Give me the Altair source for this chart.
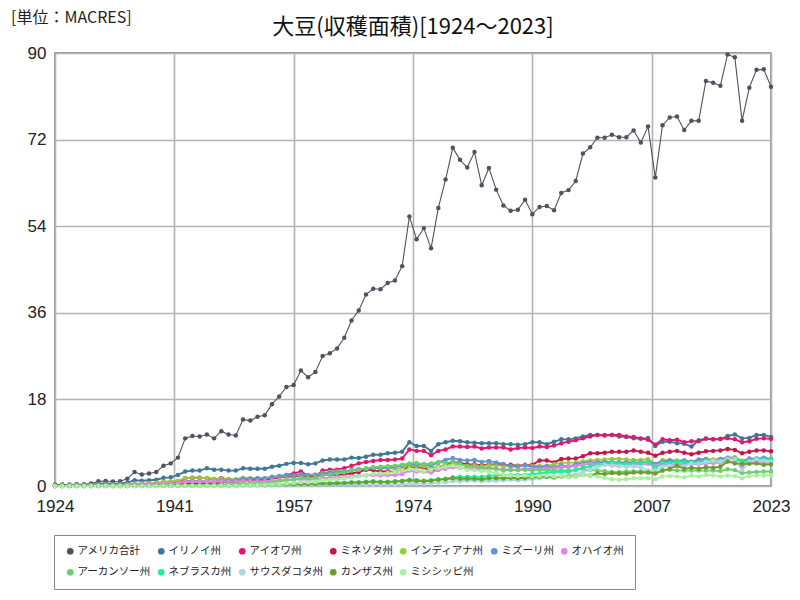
import altair as alt
import pandas as pd

years = list(range(1924, 2024))

series_names = ["アメリカ合計", "イリノイ州", "アイオワ州", "ミネソタ州", "インディアナ州", "ミズーリ州",
                "オハイオ州", "アーカンソー州", "ネブラスカ州", "サウスダコタ州", "カンザス州", "ミシシッピ州"]
series_colors = ["#4f5260", "#3f7896", "#e0186e", "#c7154b", "#9acd3a", "#6494d0",
                 "#e882e8", "#6ccf6c", "#22ee99", "#a8d8e6", "#6b9e2b", "#aaf0a0"]

us_total = [0.30, 0.30, 0.30, 0.35, 0.35, 0.50, 1.00, 1.05, 0.95, 1.00,
            1.50, 2.90, 2.40, 2.60, 2.90, 4.20, 4.70, 5.90, 9.90, 10.40,
            10.30, 10.70, 9.90, 11.40, 10.70, 10.50, 13.80, 13.60, 14.40, 14.70,
            17.00, 18.60, 20.60, 21.00, 24.00, 22.60, 23.70, 27.00, 27.60, 28.60,
            30.80, 34.40, 36.50, 39.80, 41.00, 40.90, 42.20, 42.70, 45.70, 56.00,
            51.30, 53.60, 49.40, 57.80, 63.70, 70.30, 67.80, 66.20, 69.40, 62.50,
            66.10, 61.60, 58.30, 57.20, 57.40, 59.50, 56.50, 58.00, 58.20, 57.30,
            60.90, 61.50, 63.40, 69.10, 70.40, 72.40, 72.40, 73.00, 72.50, 72.50,
            73.90, 71.40, 74.70, 64.10, 75.00, 76.60, 76.80, 74.00, 75.90, 75.90,
            84.20, 83.80, 83.20, 89.70, 89.10, 75.90, 82.80, 86.50, 86.60, 83.00]

illinois = [0.05, 0.05, 0.06, 0.08, 0.09, 0.20, 0.50, 0.55, 0.50, 0.55,
            0.70, 1.20, 1.10, 1.20, 1.30, 1.70, 1.80, 2.30, 3.00, 3.20,
            3.20, 3.70, 3.40, 3.40, 3.20, 3.20, 3.70, 3.60, 3.60, 3.60,
            4.00, 4.20, 4.60, 4.80, 4.80, 4.50, 4.70, 5.30, 5.50, 5.50,
            5.50, 5.90, 5.80, 6.10, 6.50, 6.50, 6.80, 6.90, 7.10, 9.10,
            8.30, 8.30, 7.30, 8.70, 9.10, 9.40, 9.30, 9.10, 9.00, 8.90,
            8.90, 8.90, 8.70, 8.70, 8.60, 8.70, 9.10, 9.10, 8.70, 9.20,
            9.70, 9.70, 9.90, 10.30, 10.60, 10.60, 10.60, 10.60, 10.30, 10.20,
            9.90, 9.80, 10.00, 8.30, 9.20, 9.20, 8.90, 8.80, 8.20, 9.50,
            9.90, 9.70, 9.70, 10.40, 10.70, 9.90, 10.00, 10.60, 10.60, 10.20]

iowa = [0.02, 0.02, 0.03, 0.03, 0.04, 0.05, 0.08, 0.10, 0.10, 0.12,
        0.15, 0.25, 0.30, 0.30, 0.35, 0.50, 0.60, 0.80, 1.60, 1.70,
        1.70, 1.60, 1.40, 1.60, 1.40, 1.20, 1.60, 1.50, 1.40, 1.30,
        1.60, 1.70, 2.30, 2.60, 3.00, 2.10, 2.10, 3.20, 3.40, 3.40,
        3.70, 4.20, 4.70, 5.00, 5.20, 5.40, 5.40, 5.50, 5.70, 7.60,
        7.30, 7.30, 6.40, 7.30, 7.60, 8.20, 8.20, 8.10, 8.20, 7.80,
        8.00, 8.00, 8.00, 7.60, 7.90, 8.00, 7.90, 8.20, 8.10, 8.40,
        8.90, 9.20, 9.50, 9.90, 10.30, 10.60, 10.50, 10.60, 10.60, 10.30,
        10.20, 9.90, 9.60, 8.60, 9.70, 9.50, 9.60, 9.10, 9.30, 9.30,
        9.80, 9.70, 9.80, 9.90, 9.70, 9.10, 9.30, 9.80, 9.90, 9.80]

minnesota = [0.00, 0.00, 0.00, 0.00, 0.00, 0.01, 0.01, 0.01, 0.01, 0.02,
             0.03, 0.05, 0.05, 0.05, 0.05, 0.08, 0.10, 0.20, 0.50, 0.60,
             0.50, 0.60, 0.50, 0.80, 0.90, 0.80, 1.10, 1.20, 1.30, 1.30,
             1.70, 1.80, 1.90, 2.00, 2.20, 2.00, 2.00, 2.40, 2.40, 2.30,
             2.50, 2.60, 2.90, 3.40, 3.30, 3.00, 3.00, 2.90, 3.20, 4.10,
             3.90, 3.80, 3.00, 4.00, 4.30, 5.00, 4.80, 4.50, 4.50, 4.30,
             4.50, 4.50, 4.40, 4.40, 4.20, 4.40, 4.40, 5.30, 5.30, 4.90,
             5.60, 5.70, 5.70, 6.20, 6.80, 6.80, 6.90, 7.10, 7.10, 7.10,
             7.40, 7.10, 6.90, 6.30, 6.90, 7.10, 7.30, 6.90, 6.60, 6.90,
             7.20, 7.30, 7.40, 7.70, 7.50, 6.80, 7.10, 7.40, 7.40, 7.20]

indiana = [0.05, 0.05, 0.06, 0.08, 0.10, 0.12, 0.20, 0.25, 0.20, 0.25,
           0.30, 0.50, 0.50, 0.60, 0.70, 0.90, 1.00, 1.10, 1.60, 1.70,
           1.60, 1.70, 1.40, 1.50, 1.40, 1.40, 1.70, 1.60, 1.60, 1.60,
           1.80, 1.90, 2.10, 2.20, 2.40, 2.30, 2.40, 2.70, 2.90, 3.00,
           3.00, 3.30, 3.50, 3.60, 3.80, 3.70, 3.70, 3.60, 3.70, 4.30,
           4.00, 4.10, 3.70, 4.10, 4.30, 4.50, 4.40, 4.20, 4.30, 4.10,
           4.30, 4.30, 4.20, 4.00, 4.10, 4.30, 4.20, 4.20, 4.20, 4.50,
           4.80, 4.80, 4.90, 5.10, 5.30, 5.40, 5.50, 5.60, 5.60, 5.50,
           5.40, 5.40, 5.60, 4.60, 5.40, 5.40, 5.30, 5.30, 5.10, 5.20,
           5.60, 5.50, 5.60, 5.90, 6.00, 5.30, 5.60, 5.70, 5.80, 5.60]

missouri = [0.03, 0.03, 0.04, 0.05, 0.06, 0.07, 0.10, 0.12, 0.10, 0.10,
            0.15, 0.30, 0.25, 0.30, 0.30, 0.40, 0.50, 0.60, 1.00, 1.10,
            1.00, 1.00, 0.90, 1.20, 1.10, 1.20, 1.50, 1.50, 1.60, 1.60,
            1.90, 2.10, 2.30, 2.20, 2.40, 2.20, 2.30, 2.60, 2.80, 2.90,
            3.00, 3.30, 3.50, 3.60, 3.80, 3.70, 3.90, 4.00, 4.20, 4.60,
            4.40, 4.50, 4.20, 4.90, 5.40, 5.80, 5.40, 5.30, 5.40, 5.00,
            5.20, 4.90, 4.60, 4.20, 4.00, 4.30, 4.00, 3.90, 4.10, 3.90,
            4.30, 4.00, 4.50, 4.80, 4.90, 4.90, 5.00, 5.00, 4.90, 4.90,
            4.90, 4.90, 5.00, 4.60, 5.00, 5.30, 5.10, 5.30, 5.00, 5.50,
            5.60, 5.00, 5.60, 5.90, 5.70, 5.00, 5.70, 5.70, 5.90, 5.60]

ohio = [0.03, 0.03, 0.04, 0.05, 0.06, 0.08, 0.10, 0.12, 0.12, 0.13,
        0.17, 0.30, 0.30, 0.35, 0.40, 0.50, 0.50, 0.60, 0.90, 0.90,
        0.90, 1.00, 0.90, 1.00, 0.90, 0.90, 1.00, 1.00, 1.00, 1.00,
        1.10, 1.20, 1.30, 1.30, 1.40, 1.30, 1.40, 1.60, 1.70, 1.80,
        1.80, 2.00, 2.10, 2.20, 2.30, 2.20, 2.30, 2.30, 2.50, 3.20,
        3.00, 3.00, 2.80, 3.30, 3.60, 3.90, 3.80, 3.70, 3.60, 3.50,
        3.60, 3.60, 3.50, 3.40, 3.40, 3.60, 3.50, 3.50, 3.60, 3.70,
        3.90, 4.00, 4.10, 4.40, 4.60, 4.50, 4.50, 4.60, 4.60, 4.50,
        4.50, 4.50, 4.60, 4.20, 4.40, 4.50, 4.60, 4.50, 4.60, 4.50,
        4.70, 4.80, 4.80, 5.10, 5.00, 4.20, 4.90, 5.00, 4.80, 4.60]

arkansas = [0.02, 0.02, 0.02, 0.03, 0.03, 0.04, 0.05, 0.06, 0.05, 0.05,
            0.06, 0.08, 0.08, 0.08, 0.10, 0.10, 0.10, 0.10, 0.15, 0.20,
            0.20, 0.25, 0.25, 0.30, 0.35, 0.40, 0.50, 0.50, 0.60, 0.60,
            0.80, 1.00, 1.20, 1.40, 1.70, 1.60, 1.80, 2.20, 2.40, 2.60,
            2.80, 3.20, 3.40, 3.70, 3.90, 4.00, 4.10, 4.20, 4.40, 4.70,
            4.80, 4.50, 4.70, 5.00, 4.80, 5.00, 4.60, 4.10, 4.00, 3.80,
            3.80, 3.60, 3.20, 3.30, 3.30, 3.40, 3.20, 3.40, 3.30, 3.20,
            3.30, 3.20, 3.40, 3.50, 3.30, 3.20, 3.10, 2.90, 2.90, 3.00,
            3.00, 3.00, 3.00, 2.80, 3.20, 3.40, 3.20, 3.20, 3.20, 3.20,
            3.20, 3.20, 3.10, 3.50, 3.30, 2.70, 2.80, 2.90, 3.00, 3.00]

nebraska = [0.00, 0.00, 0.00, 0.00, 0.00, 0.00, 0.01, 0.01, 0.01, 0.01,
            0.01, 0.02, 0.02, 0.02, 0.02, 0.03, 0.03, 0.04, 0.05, 0.05,
            0.05, 0.07, 0.08, 0.10, 0.10, 0.10, 0.15, 0.20, 0.25, 0.20,
            0.30, 0.35, 0.35, 0.40, 0.45, 0.40, 0.50, 0.60, 0.60, 0.70,
            0.70, 0.80, 0.80, 0.90, 1.00, 0.90, 0.90, 1.00, 1.10, 1.30,
            1.20, 1.10, 1.20, 1.40, 1.50, 1.80, 1.90, 1.90, 1.90, 1.90,
            2.10, 2.20, 2.20, 2.30, 2.30, 2.30, 2.50, 2.60, 2.80, 2.90,
            3.00, 2.90, 3.40, 3.80, 4.10, 4.40, 4.60, 4.90, 4.60, 4.50,
            4.70, 4.70, 5.00, 3.80, 4.80, 4.80, 5.10, 4.90, 4.90, 4.80,
            5.30, 5.20, 5.20, 5.60, 5.60, 5.00, 5.10, 5.60, 5.50, 5.50]

south_dakota = [0.00, 0.00, 0.00, 0.00, 0.00, 0.00, 0.00, 0.00, 0.00, 0.00,
                0.00, 0.00, 0.00, 0.00, 0.00, 0.01, 0.01, 0.01, 0.02, 0.02,
                0.02, 0.03, 0.03, 0.04, 0.05, 0.05, 0.06, 0.08, 0.10, 0.10,
                0.10, 0.15, 0.15, 0.20, 0.20, 0.20, 0.25, 0.30, 0.30, 0.30,
                0.30, 0.30, 0.30, 0.30, 0.30, 0.30, 0.30, 0.30, 0.35, 0.50,
                0.50, 0.50, 0.50, 0.70, 0.80, 1.00, 1.00, 1.10, 1.10, 1.00,
                1.10, 1.10, 1.20, 1.30, 1.20, 1.30, 1.40, 1.60, 1.80, 1.70,
                1.90, 2.20, 2.40, 2.90, 3.40, 4.00, 4.40, 4.20, 4.10, 4.00,
                4.10, 3.90, 3.20, 3.20, 4.00, 4.20, 4.20, 4.10, 4.70, 4.60,
                5.00, 5.20, 5.10, 5.60, 5.60, 3.30, 5.10, 5.50, 5.20, 5.00]

kansas = [0.00, 0.00, 0.00, 0.00, 0.00, 0.01, 0.01, 0.01, 0.01, 0.01,
          0.01, 0.02, 0.02, 0.02, 0.03, 0.03, 0.04, 0.05, 0.08, 0.10,
          0.10, 0.10, 0.10, 0.10, 0.15, 0.15, 0.20, 0.20, 0.20, 0.20,
          0.25, 0.35, 0.35, 0.35, 0.40, 0.40, 0.45, 0.55, 0.50, 0.55,
          0.60, 0.70, 0.70, 0.80, 0.90, 0.80, 0.80, 0.90, 1.00, 1.20,
          1.10, 1.00, 1.10, 1.30, 1.40, 1.60, 1.50, 1.50, 1.50, 1.40,
          1.60, 1.60, 1.60, 1.70, 1.60, 1.70, 1.80, 1.90, 1.90, 1.80,
          2.00, 1.90, 2.00, 2.30, 2.20, 2.60, 2.50, 2.70, 2.60, 2.60,
          2.80, 2.80, 2.80, 2.60, 3.20, 3.60, 4.20, 3.60, 3.80, 3.60,
          3.90, 3.80, 4.00, 5.10, 4.70, 4.60, 4.60, 4.70, 4.40, 4.50]

mississippi = [0.00, 0.00, 0.00, 0.01, 0.01, 0.01, 0.01, 0.01, 0.01, 0.01,
               0.01, 0.02, 0.02, 0.02, 0.02, 0.03, 0.03, 0.03, 0.04, 0.05,
               0.05, 0.05, 0.05, 0.07, 0.10, 0.10, 0.15, 0.20, 0.20, 0.25,
               0.30, 0.40, 0.50, 0.60, 0.80, 0.80, 0.90, 1.20, 1.30, 1.40,
               1.60, 1.80, 2.00, 2.30, 2.50, 2.60, 2.70, 2.90, 3.20, 3.50,
               3.30, 3.10, 3.40, 3.80, 4.00, 4.20, 3.90, 3.40, 3.30, 3.10,
               3.00, 2.70, 2.30, 2.20, 2.10, 2.20, 2.00, 2.10, 2.20, 2.00,
               2.10, 1.80, 2.00, 2.30, 2.20, 2.00, 1.70, 1.40, 1.30, 1.40,
               1.60, 1.60, 1.60, 1.40, 2.00, 2.10, 2.00, 1.80, 2.20, 2.00,
               2.30, 2.20, 2.00, 2.20, 2.10, 1.60, 2.10, 2.20, 2.20, 2.20]

x_ticks = [1924, 1940.5, 1957, 1973.5, 1990, 2006.5, 2023]
y_ticks = [0, 18, 36, 54, 72, 90]

title_text = "大豆(収穫面積)[1924～2023]"
unit_text = "[単位：MACRES]"

all_series = [us_total, illinois, iowa, minnesota, indiana, missouri,
              ohio, arkansas, nebraska, south_dakota, kansas, mississippi]

rows = []
for i, (name, vals) in enumerate(zip(series_names, all_series)):
    for yr, v in zip(years, vals):
        rows.append({"year": yr, "series": name, "value": v,
                     "w": 1.1 if i == 0 else 1.9})
df = pd.DataFrame(rows)

JP = "Noto Sans CJK JP"
NUM = "Liberation Sans"

color = alt.Color("series:N", sort=series_names,
                  scale=alt.Scale(domain=series_names, range=series_colors),
                  legend=alt.Legend(title=None, orient="none", legendX=-1, legendY=482,
                                    columns=7, gridAlign="none", direction="horizontal",
                                    symbolType="circle", symbolSize=45, symbolStrokeWidth=0,
                                    labelFont=JP, labelFontSize=10.5, labelColor="#222",
                                    labelOffset=2, columnPadding=5, rowPadding=10,
                                    padding=11, strokeColor="#888", fillColor="white",
                                    symbolOpacity=1))

x = alt.X("year:Q", scale=alt.Scale(domain=[1924, 2023], nice=False, zero=False),
          axis=alt.Axis(values=x_ticks, labelExpr="round(datum.value)", title=None,
                        labelFlush=False, labelPadding=12, ticks=False, domain=False,
                        labelFont=NUM, labelFontSize=17, labelColor="#222",
                        gridColor="#b4b4b4", gridWidth=1.6))
y = alt.Y("value:Q", scale=alt.Scale(domain=[0, 90], nice=False),
          axis=alt.Axis(values=y_ticks, title=None, labelPadding=9, ticks=False, domain=False,
                        labelFont=NUM, labelFontSize=17, labelColor="#222",
                        gridColor="#b4b4b4", gridWidth=1.6))

lines = alt.Chart(df).mark_line().encode(
    x=x, y=y, color=color, detail="series:N",
    strokeWidth=alt.StrokeWidth("w:Q", scale=None, legend=None),
    order="year:Q",
)
points = alt.Chart(df).mark_circle(size=20, opacity=1).encode(
    x=x, y=y, color=color,
)

unit = alt.Chart(pd.DataFrame({"t": [unit_text]})).mark_text(
    align="left", baseline="middle", font=JP, fontSize=16, color="#222"
).encode(x=alt.value(-44), y=alt.value(-35), text="t:N")

title = alt.Chart(pd.DataFrame({"t": [title_text]})).mark_text(
    align="center", baseline="middle", font=JP, fontSize=22, color="#111"
).encode(x=alt.value(358), y=alt.value(-26), text="t:N")

chart = alt.layer(lines, points, unit, title).properties(
    width=716, height=433,
    autosize="none",
    padding={"left": 55, "top": 53, "right": 29, "bottom": 114},
).configure_view(stroke="#777", strokeWidth=1.5).configure_legend(gridAlign="none")

chart.save("out.html", embed_options={"renderer": "svg", "actions": False})
